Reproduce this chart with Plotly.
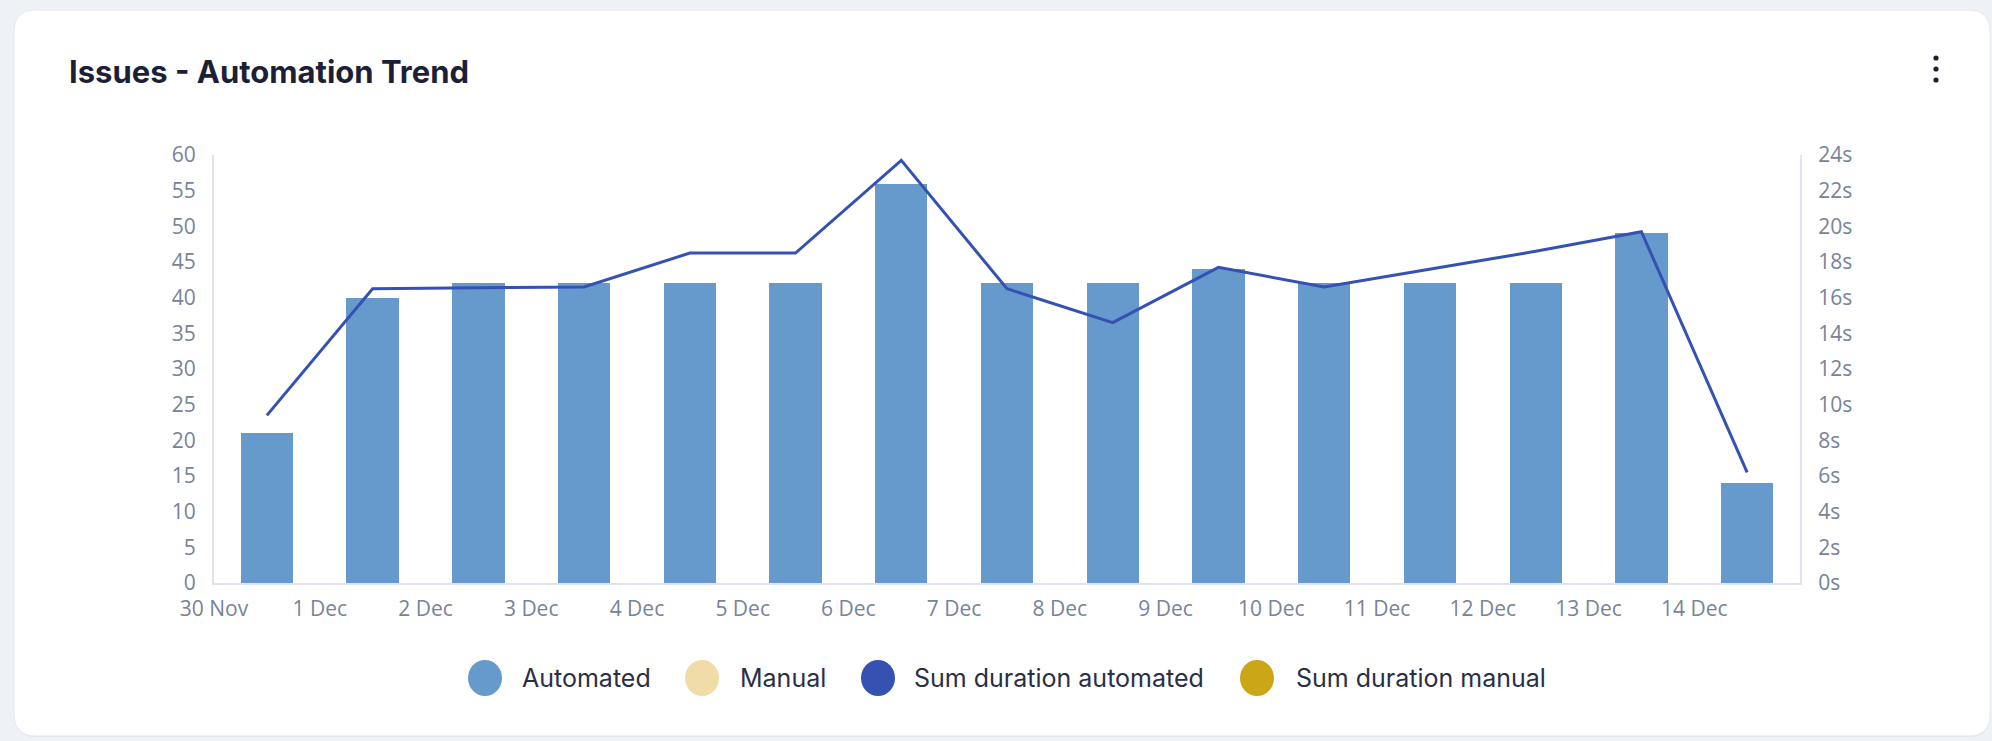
import pandas as pd
import plotly.graph_objects as go

# ---- data -------------------------------------------------------------
days = ["2024-11-30", "2024-12-01", "2024-12-02", "2024-12-03", "2024-12-04",
        "2024-12-05", "2024-12-06", "2024-12-07", "2024-12-08", "2024-12-09",
        "2024-12-10", "2024-12-11", "2024-12-12", "2024-12-13", "2024-12-14"]
tick_labels = ["30 Nov", "1 Dec", "2 Dec", "3 Dec", "4 Dec", "5 Dec", "6 Dec",
               "7 Dec", "8 Dec", "9 Dec", "10 Dec", "11 Dec", "12 Dec",
               "13 Dec", "14 Dec"]
automated = [21, 40, 42, 42, 42, 42, 56, 42, 42, 44, 42, 42, 42, 49, 14]
manual = [0, 0, 0, 0, 0, 0, 0, 0, 0, 0, 0, 0, 0, 0, 0]
duration_automated = [9.4, 16.5, 16.55, 16.6, 18.5, 18.5, 23.7, 16.5, 14.6,
                      17.7, 16.6, 17.6, 18.6, 19.7, 6.2]
duration_manual = [None] * 15

series_names = ["Automated", "Manual", "Sum duration automated", "Sum duration manual"]
series_colors = ["#6699cc", "#f0dca6", "#3552b3", "#cba617"]

# ---- canvas geometry ------------------------------------------------------
W, H = 1992, 741
L, R, T, B = 214, 192, 155, 158
PW, PH = W - L - R, H - T - B


def px_x(px):
    return (px - L) / PW


def px_y(py):
    return 1 - (py - T) / PH


day_start = pd.to_datetime(days)
bar_x = day_start + pd.Timedelta(hours=12)
day_ms = 86400000
x_range = [day_start[0], day_start[-1] + pd.Timedelta(days=1)]

TICK_FONT = dict(family="Open Sans", size=21, color="#77839a")
AXIS_LINE = "#dfe4ec"

fig = go.Figure()
fig.add_trace(go.Bar(x=bar_x, y=automated, name=series_names[0],
                     marker=dict(color=series_colors[0], line=dict(width=0)),
                     width=0.495 * day_ms, showlegend=False))
fig.add_trace(go.Bar(x=bar_x, y=manual, name=series_names[1],
                     marker=dict(color=series_colors[1], line=dict(width=0)),
                     width=0.495 * day_ms, showlegend=False))
fig.add_trace(go.Scatter(x=bar_x, y=duration_automated, name=series_names[2],
                         mode="lines", yaxis="y2",
                         line=dict(color=series_colors[2], width=3),
                         showlegend=False))
fig.add_trace(go.Scatter(x=bar_x, y=duration_manual, name=series_names[3],
                         mode="lines", yaxis="y2",
                         line=dict(color=series_colors[3], width=3),
                         showlegend=False))

shapes = []
annotations = []

# card with rounded corners
cx0, cy0, cx1, cy1, rad = 14, 10, 1990, 736, 22


def card_path(x0, y0, x1, y1, r):
    pts = [
        ("M", (x0 + r, y0)), ("L", (x1 - r, y0)), ("Q", (x1, y0), (x1, y0 + r)),
        ("L", (x1, y1 - r)), ("Q", (x1, y1), (x1 - r, y1)),
        ("L", (x0 + r, y1)), ("Q", (x0, y1), (x0, y1 - r)),
        ("L", (x0, y0 + r)), ("Q", (x0, y0), (x0 + r, y0)),
    ]
    out = []
    for cmd, *coords in pts:
        out.append(cmd + " ".join(f"{px_x(a):.6f},{px_y(b):.6f}" for a, b in coords))
    return " ".join(out) + " Z"


shapes.append(dict(type="path", xref="paper", yref="paper",
                   path=card_path(cx0, cy0 + 1, cx1, cy1 + 1, rad),
                   fillcolor="#e2e6ee", line=dict(width=0), layer="below"))
shapes.append(dict(type="path", xref="paper", yref="paper",
                   path=card_path(cx0, cy0, cx1, cy1, rad),
                   fillcolor="#ffffff", line=dict(color="#e6e9f0", width=1),
                   layer="below"))

# title and menu
annotations.append(dict(xref="paper", yref="paper", x=px_x(67), y=px_y(71),
                        xanchor="left", yanchor="middle", showarrow=False,
                        text="<b>Issues - Automation Trend</b>",
                        font=dict(family="Inter", size=31, color="#1c1f36")))
for dy in (58, 69, 80):
    shapes.append(dict(type="circle", xref="paper", yref="paper",
                       xsizemode="pixel", ysizemode="pixel",
                       xanchor=px_x(1936), yanchor=px_y(dy),
                       x0=-2.6, x1=2.6, y0=-2.6, y1=2.6,
                       fillcolor="#1c1f36", line=dict(width=0)))

# legend drawn as large dots with labels
legend_dot_x = [485, 702, 878, 1257]
legend_text_x = [520, 738, 912, 1294]
legend_y = 678
for name, color, dx, tx in zip(series_names, series_colors, legend_dot_x, legend_text_x):
    shapes.append(dict(type="circle", xref="paper", yref="paper",
                       xsizemode="pixel", ysizemode="pixel",
                       xanchor=px_x(dx), yanchor=px_y(legend_y),
                       x0=-17, x1=17, y0=-18, y1=18,
                       fillcolor=color, line=dict(width=0)))
    annotations.append(dict(xref="paper", yref="paper", x=px_x(tx), y=px_y(legend_y),
                            xanchor="left", yanchor="middle", showarrow=False,
                            text=name,
                            font=dict(family="Inter", size=25, color="#2a2f45")))

fig.update_layout(
    width=W, height=H,
    margin=dict(l=L, r=R, t=T, b=B, pad=0),
    paper_bgcolor="#eef1f6",
    plot_bgcolor="rgba(0,0,0,0)",
    barmode="stack",
    showlegend=False,
    shapes=shapes,
    annotations=annotations,
    xaxis=dict(type="date", range=x_range, tickvals=list(day_start),
               ticktext=tick_labels, tickfont=TICK_FONT, showgrid=False,
               zeroline=False, showline=True, linecolor=AXIS_LINE, linewidth=2,
               ticks="outside", ticklen=6, tickcolor="rgba(0,0,0,0)"),
    yaxis=dict(range=[0, 60], dtick=5, tickfont=TICK_FONT, showgrid=False,
               zeroline=False, showline=True, linecolor=AXIS_LINE, linewidth=2,
               ticks="outside", ticklen=12, tickcolor="rgba(0,0,0,0)"),
    yaxis2=dict(range=[0, 24], dtick=2, ticksuffix="s", overlaying="y",
                side="right", tickfont=TICK_FONT, showgrid=False,
                zeroline=False, showline=True, linecolor=AXIS_LINE, linewidth=2,
                ticks="outside", ticklen=12, tickcolor="rgba(0,0,0,0)"),
)

fig.write_html("out.html")
